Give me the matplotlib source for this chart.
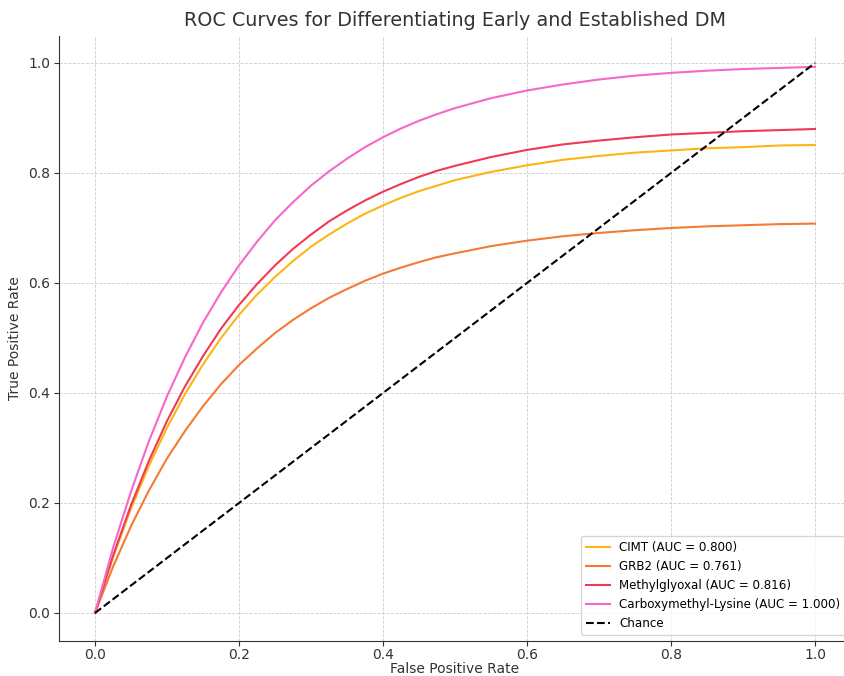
'''
    ROC curves for differentiating early and established DM.
'''

import numpy as np
import matplotlib
matplotlib.use('Agg')
import matplotlib.pyplot as plt

# ============ #
# === Data === #
# ============ #

fpr = [0, 0.025, 0.05, 0.075, 0.1, 0.125, 0.15, 0.175, 0.2, 0.225,
       0.25, 0.275, 0.3, 0.325, 0.35, 0.375, 0.4, 0.425, 0.45, 0.475,
       0.5, 0.55, 0.6, 0.65, 0.7, 0.75, 0.8, 0.85, 0.9, 0.95, 1.0]

tpr_cimt = [0, 0.101, 0.190, 0.268, 0.337, 0.398, 0.452, 0.500, 0.542, 0.579,
            0.611, 0.640, 0.666, 0.688, 0.708, 0.726, 0.741, 0.755, 0.767, 0.777,
            0.787, 0.802, 0.814, 0.824, 0.831, 0.837, 0.841, 0.845, 0.847, 0.850, 0.851]
tpr_grb2 = [0, 0.084, 0.158, 0.223, 0.281, 0.331, 0.376, 0.416, 0.451, 0.481,
            0.509, 0.533, 0.554, 0.573, 0.589, 0.604, 0.617, 0.628, 0.638, 0.647,
            0.654, 0.667, 0.677, 0.685, 0.691, 0.696, 0.700, 0.703, 0.705, 0.707, 0.708]
tpr_mgo  = [0, 0.104, 0.196, 0.277, 0.349, 0.412, 0.467, 0.517, 0.560, 0.598,
            0.632, 0.662, 0.688, 0.712, 0.732, 0.750, 0.766, 0.780, 0.793, 0.804,
            0.813, 0.829, 0.842, 0.852, 0.859, 0.865, 0.870, 0.873, 0.876, 0.878, 0.880]
tpr_cml  = [0, 0.118, 0.221, 0.313, 0.394, 0.465, 0.528, 0.583, 0.632, 0.675,
            0.714, 0.747, 0.777, 0.803, 0.826, 0.847, 0.865, 0.881, 0.895, 0.907,
            0.918, 0.936, 0.950, 0.961, 0.970, 0.977, 0.982, 0.986, 0.989, 0.991, 0.993]

labels = ['CIMT', 'GRB2', 'Methylglyoxal', 'Carboxymethyl-Lysine']
aucs   = [0.800, 0.761, 0.816, 1.000]
colors = ['#FDB515', '#F47A35', '#EE3A55', '#F766C9']

# ================ #
# === Plotting === #
# ================ #

fig = plt.figure(figsize=(8.45, 6.76), dpi=100)
ax = fig.add_axes([59/845, 35.5/676, 792/845, 605/676])

for tpr, lab, auc, col in zip([tpr_cimt, tpr_grb2, tpr_mgo, tpr_cml], labels, aucs, colors):
    ax.plot(fpr, tpr, color=col, lw=1.5, label=f'{lab} (AUC = {auc:.3f})')
ax.plot([0, 1], [0, 1], 'k--', lw=1.5, label='Chance')

ax.set_xlim(-0.05, 1.05)
ax.set_ylim(-0.05, 1.05)
ax.grid(True, ls='--', lw=0.6, color='#cccccc')
ax.set_axisbelow(True)
for s in ['top', 'right']:
    ax.spines[s].set_visible(False)
for s in ['left', 'bottom']:
    ax.spines[s].set_color('#333333')
ax.tick_params(colors='#333333', labelsize=10, pad=3)
ax.tick_params(axis='x', pad=2)

ax.set_xlabel('False Positive Rate', fontsize=10, color='#333333', labelpad=0)
ax.set_ylabel('True Positive Rate', fontsize=10, color='#333333')
ax.set_title('ROC Curves for Differentiating Early and Established DM',
             fontsize=13.8, color='#333333', pad=7)
ax.legend(loc='lower right', fontsize=8.6, framealpha=0.8, edgecolor='#cccccc')

fig.savefig('out.png', dpi=100)
